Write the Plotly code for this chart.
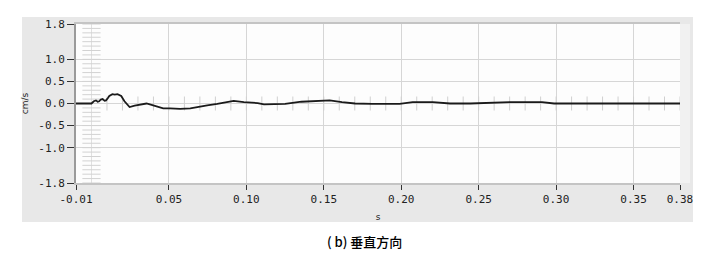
import numpy as np
import plotly.graph_objects as go

# time (s) and vertical velocity (cm/s)
t = [-0.01, 0.0, 0.0015, 0.0029, 0.004, 0.005, 0.006, 0.0072, 0.0085, 0.0094, 0.0105,
     0.0115, 0.0135, 0.0150, 0.0168, 0.0192, 0.0213, 0.0246, 0.0279, 0.0322, 0.0355,
     0.0388, 0.042, 0.0463, 0.0507, 0.0572, 0.0638, 0.0681, 0.0747, 0.0812, 0.0877,
     0.0918, 0.0984, 0.1073, 0.1114, 0.116, 0.125, 0.1356, 0.1454, 0.1538, 0.1617,
     0.1702, 0.1813, 0.1924, 0.1989, 0.2074, 0.2204, 0.2315, 0.2446, 0.2707, 0.2779,
     0.2824, 0.2909, 0.2987, 0.3314, 0.38]
v = [0.0, 0.0, 0.05, 0.07, 0.04, 0.05, 0.09, 0.10, 0.06, 0.07, 0.12,
     0.17, 0.21, 0.20, 0.21, 0.17, 0.05, -0.08, -0.05, -0.03, 0.00,
     -0.03, -0.07, -0.11, -0.11, -0.12, -0.11, -0.08, -0.04, -0.01, 0.04,
     0.06, 0.03, 0.01, -0.02, -0.02, -0.01, 0.04, 0.05, 0.07, 0.03,
     0.0, -0.01, -0.01, -0.01, 0.03, 0.03, 0.0, 0.0, 0.03, 0.03,
     0.03, 0.03, 0.0, 0.0, 0.0]

x_ticks = [-0.01, 0.05, 0.10, 0.15, 0.20, 0.25, 0.30, 0.35, 0.38]
x_labels = ["-0.01", "0.05", "0.10", "0.15", "0.20", "0.25", "0.30", "0.35", "0.38"]
y_ticks = [-1.8, -1.0, -0.5, 0.0, 0.5, 1.0, 1.8]
y_labels = ["-1.8", "-1.0", "-0.5", "0.0", "0.5", "1.0", "1.8"]

# decorative crosshair ladders (minor tick marks drawn through the origin)
ladder_y = np.round(np.arange(-1.8, 1.8001, 0.1), 2)
ladder_x = np.round(np.arange(0.01, 0.3801, 0.01), 2)

mono = "DejaVu Sans Mono"

fig = go.Figure()
fig.add_trace(go.Scatter(x=[0, 0], y=[-1.8, 1.8], mode="lines",
                         line=dict(color="#e0e0e0", width=1), hoverinfo="skip"))
fig.add_trace(go.Scatter(x=[0] * len(ladder_y), y=ladder_y, mode="markers",
                         marker=dict(symbol="line-ew", size=13,
                                     line=dict(color="#d2d2d2", width=1)),
                         hoverinfo="skip"))
fig.add_trace(go.Scatter(x=ladder_x, y=[0] * len(ladder_x), mode="markers",
                         marker=dict(symbol="line-ns", size=10,
                                     line=dict(color="#d0d0d0", width=1)),
                         hoverinfo="skip"))
fig.add_trace(go.Scatter(x=t, y=v, mode="lines",
                         line=dict(color="#1a1a1a", width=1.8)))

fig.update_layout(
    width=709, height=258,
    margin=dict(l=76, r=29, t=24, b=75),
    paper_bgcolor="white",
    plot_bgcolor="rgba(0,0,0,0)",
    showlegend=False,
    shapes=[
        dict(type="rect", xref="paper", yref="paper", x0=-0.0894, x1=1.0215,
             y0=-0.245, y1=1.044, fillcolor="#e8e8e8", line=dict(width=0), layer="below"),
        dict(type="rect", xref="paper", yref="paper", x0=1.0, x1=1.0166,
             y0=0, y1=1, fillcolor="#f1f1f1", line=dict(width=0), layer="below"),
        dict(type="rect", xref="paper", yref="paper", x0=0, x1=1,
             y0=0, y1=1, fillcolor="#fdfdfd", line=dict(width=0), layer="below"),
    ],
    annotations=[
        dict(text="( b) 垂直方向", xref="paper", yref="paper", x=0.478, y=-0.371,
             xanchor="center", yanchor="middle", showarrow=False,
             font=dict(family="Noto Sans CJK SC", size=13, color="#000", weight=500)),
    ],
)

fig.update_xaxes(
    range=[-0.01, 0.38], tickmode="array", tickvals=x_ticks, ticktext=x_labels,
    showgrid=True, gridcolor="#d6d6d6", gridwidth=1, zeroline=False,
    ticks="outside", ticklen=5, tickcolor="#333", tickwidth=1,
    showline=True, linecolor="#c4c4c4", linewidth=2, mirror=True,
    tickfont=dict(family=mono, size=11, color="#222"),
    title=dict(text="s", font=dict(family="DejaVu Sans", size=9, color="#222"), standoff=8),
)
fig.update_yaxes(
    range=[-1.8, 1.8], tickmode="array", tickvals=y_ticks, ticktext=y_labels,
    showgrid=True, gridcolor="#d6d6d6", gridwidth=1, zeroline=False,
    ticks="outside", ticklen=7, tickcolor="#333", tickwidth=1,
    showline=True, linecolor="#9a9a9a", linewidth=2,
    tickfont=dict(family=mono, size=11, color="#222"),
    title=dict(text="cm/s", font=dict(family="DejaVu Sans", size=9, color="#222"), standoff=8),
)

fig.write_html("out.html")
